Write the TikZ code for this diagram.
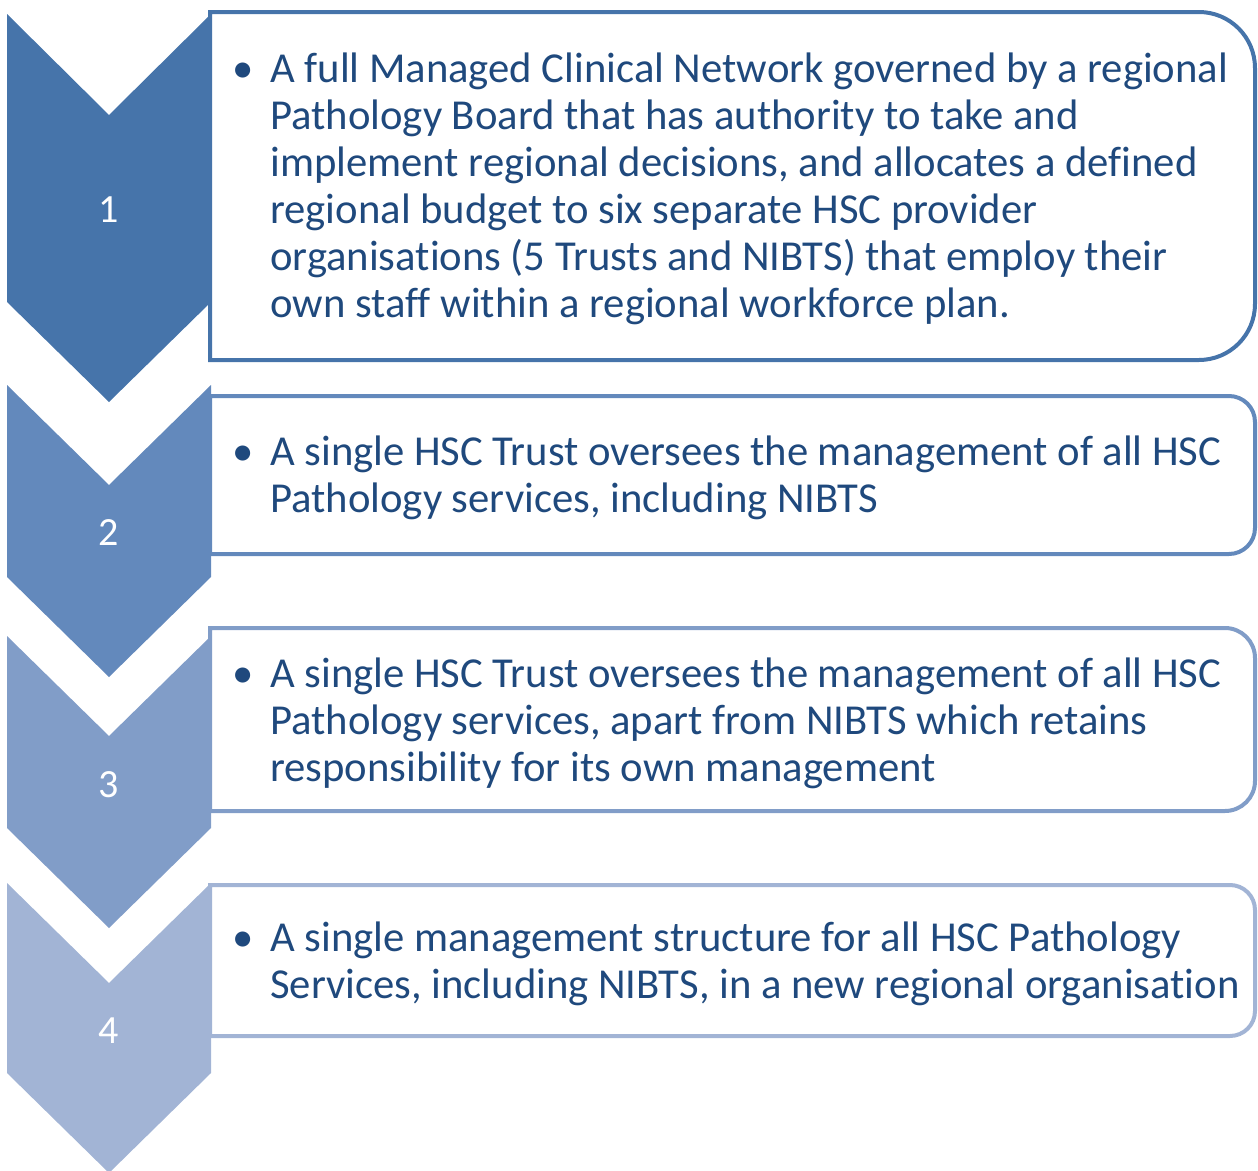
\documentclass[tikz,border=0pt]{standalone}
\usepackage{fontspec}
\setmainfont{Carlito}[Ligatures=NoCommon]
\definecolor{shadeA}{HTML}{4674AA}
\definecolor{shadeB}{HTML}{6389BC}
\definecolor{shadeC}{HTML}{819DC8}
\definecolor{shadeD}{HTML}{A2B4D5}
\definecolor{inktext}{HTML}{1F497D}
% card: colour, top, bottom, corner radius, name (square on the left, rounded on the right)
\newcommand\drawcard[5]{%
  \draw[card=#1] (210,#2) -- ({1255-#4},#2)
    .. controls ({1255-0.448*#4},#2) and (1255,{#2+0.448*#4}) .. (1255,{#2+#4})
    -- (1255,{#3-#4})
    .. controls (1255,{#3-0.448*#4}) and ({1255-0.448*#4},#3) .. ({1255-#4},#3)
    -- (210,#3) -- cycle;
  \coordinate (#5) at (210,#2);}
\begin{document}
\begin{tikzpicture}[x=0.75pt,y=-0.75pt,
  card/.style={draw=#1, line width=3pt, fill=white, line join=miter},
  numlabel/.style={text=white, font=\fontsize{30}{35}\selectfont, anchor=base, inner sep=0pt},
  bodytext/.style={text=inktext, font=\fontsize{32}{35.25}\selectfont, anchor=north west, align=left, inner sep=0pt},
  bulletmark/.style={text=inktext, font=\fontsize{32}{35.25}\selectfont, anchor=base, inner sep=0pt}]
\useasboundingbox (0,0) rectangle (1258,1171);

% chevrons, lightest at the bottom
\fill[shadeD] (7,883) -- (109,983) -- (211,883) -- (211,1073) -- (109,1173) -- (7,1073) -- cycle;
\fill[shadeC] (7,636) -- (109,736) -- (211,636) -- (211,828) -- (109,928) -- (7,828) -- cycle;
\fill[shadeB] (7,385) -- (109,485) -- (211,385) -- (211,577) -- (109,677) -- (7,577) -- cycle;
\fill[shadeA] (7,14) -- (109,115) -- (211,14) -- (211,302) -- (109,402) -- (7,302) -- cycle;

\node[numlabel] (n1) at (109,222) {1};
\node[numlabel] (n2) at (109,545) {2};
\node[numlabel] (n3) at (109,797) {3};
\node[numlabel] (n4) at (109,1043) {4};

% cards
\drawcard{shadeA}{12}{360}{56}{c1}
\drawcard{shadeB}{396}{554}{26}{c2}
\drawcard{shadeC}{628}{811}{30}{c3}
\drawcard{shadeD}{885}{1036}{25}{c4}

% text blocks: top of each block sits one strut height above the first baseline
\node[bulletmark] (b1) at (243,82) {•};
\node[bodytext] (t1) at (270,{82-32.9}) {\strut A full Managed Clinical Network governed by a regional\\
Pathology Board that has authority to take and\\
implement regional decisions, and allocates a defined\\
regional budget to six separate HSC provider\\
organisations (5 Trusts and NIBTS) that employ their\\
own staff within a regional workforce plan.};

\node[bulletmark] (b2) at (243,465) {•};
\node[bodytext] (t2) at (270,{465-32.9}) {\strut A single HSC Trust oversees the management of all HSC\\
Pathology services, including NIBTS};

\node[bulletmark] (b3) at (243,687) {•};
\node[bodytext] (t3) at (270,{687-32.9}) {\strut A single HSC Trust oversees the management of all HSC\\
Pathology services, apart from NIBTS which retains\\
responsibility for its own management};

\node[bulletmark] (b4) at (243,951) {•};
\node[bodytext] (t4) at (270,{951-32.9}) {\strut A single management structure for all HSC Pathology\\
Services, including NIBTS, in a new regional organisation};
\end{tikzpicture}
\end{document}
